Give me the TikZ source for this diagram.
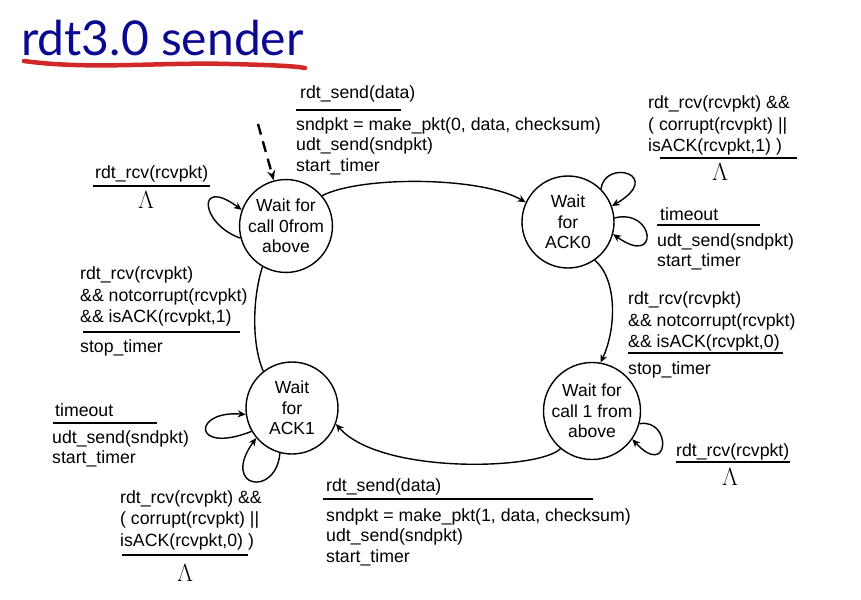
\documentclass[tikz,border=0pt]{standalone}
\usepackage{fontspec}
\setmainfont{Liberation Sans}
\newfontfamily\titlefont{Lato}
\usetikzlibrary{arrows.meta}
\definecolor{titleblue}{RGB}{10,10,145}
\definecolor{brushred}{RGB}{210,40,40}
\tikzset{
  state/.style={circle,draw,line width=1.4pt,minimum size=92pt,inner sep=0pt,align=center,font=\fontsize{17.5}{20.5}\selectfont},
  lbl/.style={anchor=base west,inner sep=0pt,font=\fontsize{17.7}{20}\selectfont},
  lam/.style={anchor=base,inner sep=0pt,font=\fontsize{24}{24}\selectfont},
  trans/.style={line width=1.4pt,-{Stealth[length=8pt,width=7pt]}},
  bar/.style={line width=2.6pt},
}
\begin{document}
\begin{tikzpicture}[x=1pt,y=-1pt]
\useasboundingbox (0,0) rectangle (861,599);
% title
\node[anchor=base west,inner sep=0pt,text=titleblue,font=\titlefont\fontsize{48}{48}\selectfont] (title) at (21,56) {rdt3.0 sender};
\draw[brushred,line width=4.5pt,line cap=round] (24,61) .. controls (90,70) and (160,62) .. (230,64) .. controls (270,65) and (295,66) .. (305,68);
% states
\node[state] (s0) at (286,226) {Wait for\\call 0from\\above};
\node[state] (a0) at (568,222) {Wait\\for\\ACK0};
\node[state] (s1) at (592,411) {Wait for\\call 1 from\\above};
\node[state] (a1) at (292,408) {Wait\\for\\ACK1};
% initial
\coordinate (init) at (258,124);
\draw[line width=2.4pt,dash pattern=on 11pt off 7pt,-{Stealth[length=10pt,width=8pt]}] (init) -- (s0.105);
% transitions
\draw[trans] (s0.40) .. controls (360,176) and (480,176) .. (a0.155);
\draw[trans] (a0.-55) .. controls (618,280) and (616,330) .. (s1.80);
\draw[trans] (s1.-130) .. controls (540,470) and (380,475) .. (a1.-20);
\draw[line width=1.4pt] (a1.128) .. controls (252,345) and (252,300) .. (s0.-120);
% self loops
\draw[trans] (s0.-165) .. controls (200,224) and (196,176) .. (s0.160);
\draw[trans] (a0.45) .. controls (605,158) and (665,175) .. (a0.20);
\draw[trans] (a0.5) .. controls (655,208) and (660,268) .. (a0.-15);
\draw[trans] (s1.-15) .. controls (672,418) and (670,480) .. (s1.-35);
\draw[trans] (a1.-150) .. controls (192,455) and (192,410) .. (a1.-172);
\draw[trans] (a1.-105) .. controls (276,498) and (220,488) .. (a1.-140);
% labels: top
\node[lbl] (t1) at (300,99) {rdt\_send(data)};
\draw[bar] (296,110) -- (401,110);
\node[lbl] (t2) at (296,130) {sndpkt = make\_pkt(0, data, checksum)};
\node[lbl] (t3) at (296,150) {udt\_send(sndpkt)};
\node[lbl] (t4) at (296,171) {start\_timer};
% top-left loop
\node[lbl] (l1) at (95,178) {rdt\_rcv(rcvpkt)};
\draw[bar] (93,186) -- (210,186);
\node[lam] (l2) at (146,208) {$\Lambda$};
% top-right loop
\node[lbl] (r1) at (648,109) {rdt\_rcv(rcvpkt) \&\&};
\node[lbl] (r2) at (648,130) {( corrupt(rcvpkt) ||};
\node[lbl] (r3) at (648,151) {isACK(rcvpkt,1) )};
\draw[bar] (660,158) -- (797,158);
\node[lam] (r4) at (720,180) {$\Lambda$};
% timeout ACK0
\node[lbl] (o1) at (660,220) {timeout};
\draw[bar] (657,225) -- (760,225);
\node[lbl] (o2) at (657,246) {udt\_send(sndpkt)};
\node[lbl] (o3) at (657,266) {start\_timer};
% ACK0 -> call1
\node[lbl] (k1) at (628,304) {rdt\_rcv(rcvpkt)};
\node[lbl] (k2) at (628,326) {\&\& notcorrupt(rcvpkt)};
\node[lbl] (k3) at (628,347) {\&\& isACK(rcvpkt,0)};
\draw[bar] (628,353) -- (783,353);
\node[lbl] (k4) at (628,374) {stop\_timer};
% ACK1 -> call0
\node[lbl] (m1) at (80,279) {rdt\_rcv(rcvpkt)};
\node[lbl] (m2) at (80,301) {\&\& notcorrupt(rcvpkt)};
\node[lbl] (m3) at (80,322) {\&\& isACK(rcvpkt,1)};
\draw[bar] (83,332) -- (240,332);
\node[lbl] (m4) at (80,352) {stop\_timer};
% call1 loop
\node[lbl] (c1) at (676,456) {rdt\_rcv(rcvpkt)};
\draw[bar] (676,462) -- (790,462);
\node[lam] (c2) at (730,485) {$\Lambda$};
% timeout ACK1
\node[lbl] (p1) at (55,416) {timeout};
\draw[bar] (53,423) -- (157,423);
\node[lbl] (p2) at (52,443) {udt\_send(sndpkt)};
\node[lbl] (p3) at (52,463) {start\_timer};
% bottom-left
\node[lbl] (q1) at (120,503) {rdt\_rcv(rcvpkt) \&\&};
\node[lbl] (q2) at (120,524) {( corrupt(rcvpkt) ||};
\node[lbl] (q3) at (120,546) {isACK(rcvpkt,0) )};
\draw[bar] (122,555) -- (248,555);
\node[lam] (q4) at (185,581) {$\Lambda$};
% bottom
\node[lbl] (b1) at (326,491) {rdt\_send(data)};
\draw[bar] (323,499) -- (593,499);
\node[lbl] (b2) at (326,521) {sndpkt = make\_pkt(1, data, checksum)};
\node[lbl] (b3) at (326,541) {udt\_send(sndpkt)};
\node[lbl] (b4) at (326,562) {start\_timer};
\end{tikzpicture}
\end{document}
